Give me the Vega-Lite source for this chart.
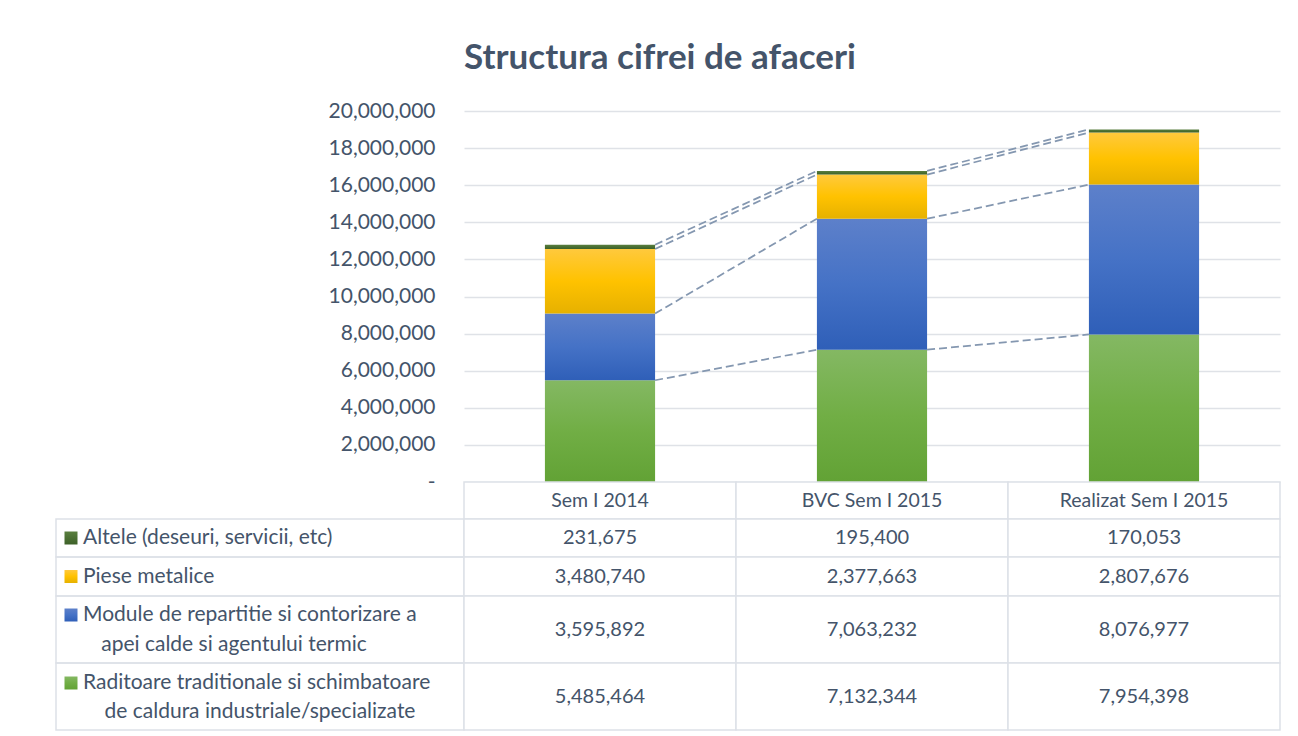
{
  "$schema": "https://vega.github.io/schema/vega-lite/v6.json",
  "padding": {"left": 55, "top": 41, "right": 5, "bottom": 0},
  "config": {"font": "Lato", "view": {"stroke": null}},
  "title": {"text": "Structura cifrei de afaceri", "fontSize": 35, "font": "Lato", "fontWeight": "bold", "color": "#44546a", "anchor": "middle", "offset": 24, "dx": -8},
  "datasets": {
    "rows": [
      {"cat": "Sem I 2014", "c": 1, "s": 1, "series": "Raditoare traditionale si schimbatoare de caldura industriale/specializate", "value": 5485464},
      {"cat": "Sem I 2014", "c": 1, "s": 2, "series": "Module de repartitie si contorizare a apei calde si agentului termic", "value": 3595892},
      {"cat": "Sem I 2014", "c": 1, "s": 3, "series": "Piese metalice", "value": 3480740},
      {"cat": "Sem I 2014", "c": 1, "s": 4, "series": "Altele (deseuri, servicii, etc)", "value": 231675},
      {"cat": "BVC Sem I 2015", "c": 2, "s": 1, "series": "Raditoare traditionale si schimbatoare de caldura industriale/specializate", "value": 7132344},
      {"cat": "BVC Sem I 2015", "c": 2, "s": 2, "series": "Module de repartitie si contorizare a apei calde si agentului termic", "value": 7063232},
      {"cat": "BVC Sem I 2015", "c": 2, "s": 3, "series": "Piese metalice", "value": 2377663},
      {"cat": "BVC Sem I 2015", "c": 2, "s": 4, "series": "Altele (deseuri, servicii, etc)", "value": 195400},
      {"cat": "Realizat Sem I 2015", "c": 3, "s": 1, "series": "Raditoare traditionale si schimbatoare de caldura industriale/specializate", "value": 7954398},
      {"cat": "Realizat Sem I 2015", "c": 3, "s": 2, "series": "Module de repartitie si contorizare a apei calde si agentului termic", "value": 8076977},
      {"cat": "Realizat Sem I 2015", "c": 3, "s": 3, "series": "Piese metalice", "value": 2807676},
      {"cat": "Realizat Sem I 2015", "c": 3, "s": 4, "series": "Altele (deseuri, servicii, etc)", "value": 170053}
    ],
    "legend": [
      {"s": 4, "l1": "Altele (deseuri, servicii, etc)", "l2": ""},
      {"s": 3, "l1": "Piese metalice", "l2": ""},
      {"s": 2, "l1": "Module de repartitie si contorizare a", "l2": "apei calde si agentului termic"},
      {"s": 1, "l1": "Raditoare traditionale si schimbatoare", "l2": "de caldura industriale/specializate"}
    ]
  },
  "columns": 2,
  "spacing": 0,
  "bounds": "flush",
  "concat": [
    {"width": 408, "height": 371, "data": {"values": []}, "mark": "point", "encoding": {}},
    {
      "width": 816, "height": 371,
      "data": {"name": "rows"},
      "transform": [{"stack": "value", "groupby": ["cat"], "sort": [{"field": "s", "order": "ascending"}], "as": ["y0", "y1"]}],
      "encoding": {
        "x": {"field": "cat", "type": "nominal", "scale": {"domain": ["Sem I 2014", "BVC Sem I 2015", "Realizat Sem I 2015"], "paddingInner": 0.595, "paddingOuter": 0.2975}, "axis": null},
        "y": {"field": "y1", "type": "quantitative", "scale": {"domain": [0, 20000000]},
          "axis": {"title": null, "values": [0, 2000000, 4000000, 6000000, 8000000, 10000000, 12000000, 14000000, 16000000, 18000000, 20000000], "labelExpr": "datum.value == 0 ? '-\u2007' : format(datum.value, ',')", "labelOverlap": false, "grid": true, "gridColor": "#dfe2e7", "gridWidth": 1.5, "ticks": false, "domain": false, "labelPadding": 29, "labelFontSize": 21, "labelColor": "#44546a", "labelFont": "Lato"}}
      },
      "layer": [
        {
          "transform": [{"filter": "datum.s == 1"}],
          "mark": {"type": "bar", "fill": {"gradient": "linear", "x1": 0, "y1": 0, "x2": 0, "y2": 1, "stops": [{"offset": 0, "color": "#84b863"}, {"offset": 0.5, "color": "#71ae45"}, {"offset": 1, "color": "#62a235"}]}},
          "encoding": {"y2": {"field": "y0"}}
        },
        {
          "transform": [{"filter": "datum.s == 2"}],
          "mark": {"type": "bar", "fill": {"gradient": "linear", "x1": 0, "y1": 0, "x2": 0, "y2": 1, "stops": [{"offset": 0, "color": "#5d80ca"}, {"offset": 0.5, "color": "#4572c6"}, {"offset": 1, "color": "#2f5fb8"}]}},
          "encoding": {"y2": {"field": "y0"}}
        },
        {
          "transform": [{"filter": "datum.s == 3"}],
          "mark": {"type": "bar", "fill": {"gradient": "linear", "x1": 0, "y1": 0, "x2": 0, "y2": 1, "stops": [{"offset": 0, "color": "#ffc93d"}, {"offset": 0.5, "color": "#ffc200"}, {"offset": 1, "color": "#e6b100"}]}},
          "encoding": {"y2": {"field": "y0"}}
        },
        {
          "transform": [{"filter": "datum.s == 4"}],
          "mark": {"type": "bar", "fill": {"gradient": "linear", "x1": 0, "y1": 0, "x2": 0, "y2": 1, "stops": [{"offset": 0, "color": "#5a7f3f"}, {"offset": 0.5, "color": "#4a6f33"}, {"offset": 1, "color": "#3d6128"}]}},
          "encoding": {"y2": {"field": "y0"}}
        },
        {
          "transform": [
            {"window": [{"op": "lead", "field": "y1", "as": "ny"}, {"op": "lead", "field": "cat", "as": "ncat"}], "groupby": ["s"], "sort": [{"field": "c", "order": "ascending"}]},
            {"filter": "datum.ncat != null"}
          ],
          "mark": {"type": "rule", "strokeDash": [8, 4], "color": "#8497b0", "strokeWidth": 1.75},
          "encoding": {
            "x": {"field": "cat", "type": "nominal", "bandPosition": 1},
            "x2": {"field": "ncat", "bandPosition": 0},
            "y2": {"field": "ny"}
          }
        }
      ]
    },
    {"width": 408, "height": 37, "data": {"values": []}, "mark": "point", "encoding": {}},
    {
      "width": 816, "height": 37,
      "data": {"name": "rows"},
      "transform": [{"filter": "datum.s == 1"}],
      "encoding": {"x": {"field": "cat", "type": "nominal", "scale": {"domain": ["Sem I 2014", "BVC Sem I 2015", "Realizat Sem I 2015"], "paddingInner": 0, "paddingOuter": 0}, "axis": null}},
      "layer": [
        {"mark": {"type": "rect", "fill": "white", "stroke": "#dde1e7", "strokeWidth": 1.5}},
        {"mark": {"type": "text", "fontSize": 19.5, "color": "#44546a", "baseline": "middle"}, "encoding": {"text": {"field": "cat"}}}
      ]
    },
    {
      "width": 408, "height": 38,
      "view": {"stroke": "#dde1e7", "strokeWidth": 1.5},
      "data": {"name": "legend"},
      "transform": [{"filter": "datum.s == 4"}],
      "layer": [
        {"mark": {"type": "square", "size": 169, "opacity": 1, "strokeWidth": 0, "fill": {"gradient": "linear", "x1": 0, "y1": 0, "x2": 0, "y2": 1, "stops": [{"offset": 0, "color": "#5a7f3f"}, {"offset": 1, "color": "#3d6128"}]}}, "encoding": {"x": {"value": 15}, "y": {"value": 19}}},
        {"mark": {"type": "text", "fontSize": 21, "color": "#44546a", "align": "left", "baseline": "middle"}, "encoding": {"x": {"value": 27}, "y": {"value": 19}, "text": {"field": "l1"}}}
      ]
    },
    {
      "width": 816, "height": 38,
      "data": {"name": "rows"},
      "transform": [{"filter": "datum.s == 4"}],
      "encoding": {"x": {"field": "cat", "type": "nominal", "scale": {"domain": ["Sem I 2014", "BVC Sem I 2015", "Realizat Sem I 2015"], "paddingInner": 0, "paddingOuter": 0}, "axis": null}},
      "layer": [
        {"mark": {"type": "rect", "fill": "white", "stroke": "#dde1e7", "strokeWidth": 1.5}},
        {"mark": {"type": "text", "fontSize": 20, "color": "#44546a", "baseline": "middle"}, "encoding": {"text": {"field": "value", "type": "quantitative", "format": ","}}}
      ]
    },
    {
      "width": 408, "height": 39,
      "view": {"stroke": "#dde1e7", "strokeWidth": 1.5},
      "data": {"name": "legend"},
      "transform": [{"filter": "datum.s == 3"}],
      "layer": [
        {"mark": {"type": "square", "size": 169, "opacity": 1, "strokeWidth": 0, "fill": {"gradient": "linear", "x1": 0, "y1": 0, "x2": 0, "y2": 1, "stops": [{"offset": 0, "color": "#ffc93d"}, {"offset": 0.5, "color": "#ffc200"}, {"offset": 1, "color": "#e6b100"}]}}, "encoding": {"x": {"value": 15}, "y": {"value": 19.5}}},
        {"mark": {"type": "text", "fontSize": 21, "color": "#44546a", "align": "left", "baseline": "middle"}, "encoding": {"x": {"value": 27}, "y": {"value": 19.5}, "text": {"field": "l1"}}}
      ]
    },
    {
      "width": 816, "height": 39,
      "data": {"name": "rows"},
      "transform": [{"filter": "datum.s == 3"}],
      "encoding": {"x": {"field": "cat", "type": "nominal", "scale": {"domain": ["Sem I 2014", "BVC Sem I 2015", "Realizat Sem I 2015"], "paddingInner": 0, "paddingOuter": 0}, "axis": null}},
      "layer": [
        {"mark": {"type": "rect", "fill": "white", "stroke": "#dde1e7", "strokeWidth": 1.5}},
        {"mark": {"type": "text", "fontSize": 20, "color": "#44546a", "baseline": "middle"}, "encoding": {"text": {"field": "value", "type": "quantitative", "format": ","}}}
      ]
    },
    {
      "width": 408, "height": 67,
      "view": {"stroke": "#dde1e7", "strokeWidth": 1.5},
      "data": {"name": "legend"},
      "transform": [{"filter": "datum.s == 2"}],
      "layer": [
        {"mark": {"type": "square", "size": 169, "opacity": 1, "strokeWidth": 0, "fill": {"gradient": "linear", "x1": 0, "y1": 0, "x2": 0, "y2": 1, "stops": [{"offset": 0, "color": "#5d80ca"}, {"offset": 0.5, "color": "#4572c6"}, {"offset": 1, "color": "#2f5fb8"}]}}, "encoding": {"x": {"value": 15}, "y": {"value": 19}}},
        {"mark": {"type": "text", "fontSize": 21, "color": "#44546a", "align": "left", "baseline": "middle"}, "encoding": {"x": {"value": 27}, "y": {"value": 19}, "text": {"field": "l1"}}},
        {"mark": {"type": "text", "fontSize": 21, "color": "#44546a", "align": "center", "baseline": "middle"}, "encoding": {"x": {"value": 178}, "y": {"value": 49}, "text": {"field": "l2"}}}
      ]
    },
    {
      "width": 816, "height": 67,
      "data": {"name": "rows"},
      "transform": [{"filter": "datum.s == 2"}],
      "encoding": {"x": {"field": "cat", "type": "nominal", "scale": {"domain": ["Sem I 2014", "BVC Sem I 2015", "Realizat Sem I 2015"], "paddingInner": 0, "paddingOuter": 0}, "axis": null}},
      "layer": [
        {"mark": {"type": "rect", "fill": "white", "stroke": "#dde1e7", "strokeWidth": 1.5}},
        {"mark": {"type": "text", "fontSize": 20, "color": "#44546a", "baseline": "middle"}, "encoding": {"text": {"field": "value", "type": "quantitative", "format": ","}}}
      ]
    },
    {
      "width": 408, "height": 67,
      "view": {"stroke": "#dde1e7", "strokeWidth": 1.5},
      "data": {"name": "legend"},
      "transform": [{"filter": "datum.s == 1"}],
      "layer": [
        {"mark": {"type": "square", "size": 169, "opacity": 1, "strokeWidth": 0, "fill": {"gradient": "linear", "x1": 0, "y1": 0, "x2": 0, "y2": 1, "stops": [{"offset": 0, "color": "#84b863"}, {"offset": 0.5, "color": "#71ae45"}, {"offset": 1, "color": "#62a235"}]}}, "encoding": {"x": {"value": 15}, "y": {"value": 20}}},
        {"mark": {"type": "text", "fontSize": 21, "color": "#44546a", "align": "left", "baseline": "middle"}, "encoding": {"x": {"value": 27}, "y": {"value": 20}, "text": {"field": "l1"}}},
        {"mark": {"type": "text", "fontSize": 21, "color": "#44546a", "align": "center", "baseline": "middle"}, "encoding": {"x": {"value": 204}, "y": {"value": 49}, "text": {"field": "l2"}}}
      ]
    },
    {
      "width": 816, "height": 67,
      "data": {"name": "rows"},
      "transform": [{"filter": "datum.s == 1"}],
      "encoding": {"x": {"field": "cat", "type": "nominal", "scale": {"domain": ["Sem I 2014", "BVC Sem I 2015", "Realizat Sem I 2015"], "paddingInner": 0, "paddingOuter": 0}, "axis": null}},
      "layer": [
        {"mark": {"type": "rect", "fill": "white", "stroke": "#dde1e7", "strokeWidth": 1.5}},
        {"mark": {"type": "text", "fontSize": 20, "color": "#44546a", "baseline": "middle"}, "encoding": {"text": {"field": "value", "type": "quantitative", "format": ","}}}
      ]
    }
  ]
}
